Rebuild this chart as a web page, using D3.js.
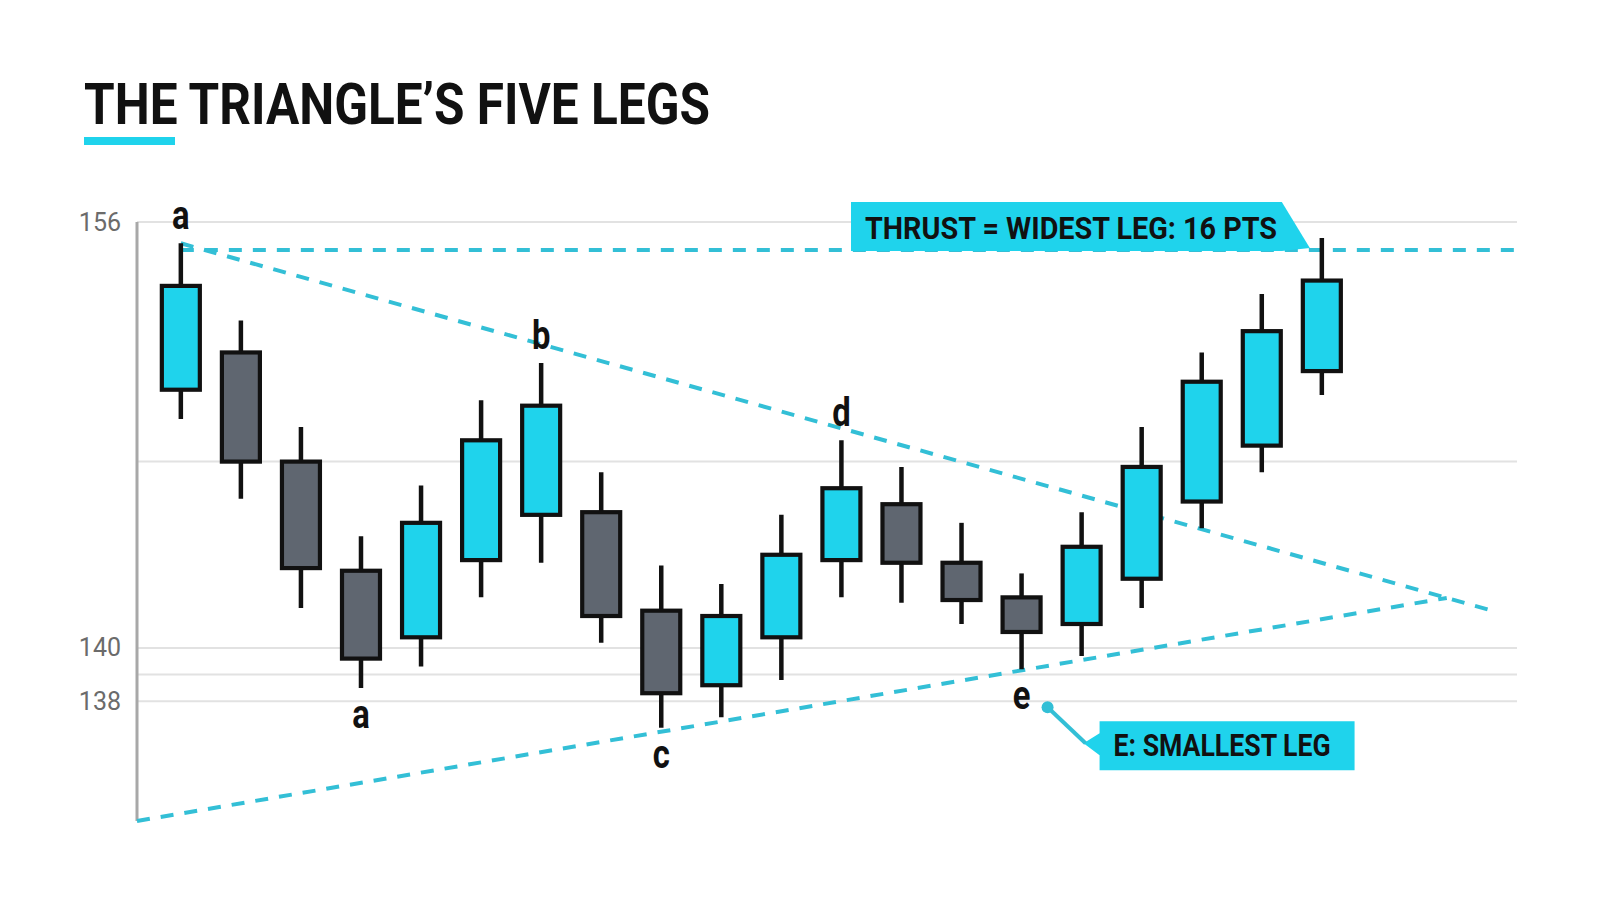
<!DOCTYPE html>
<html>
<head>
<meta charset="utf-8">
<script src="https://cdn.jsdelivr.net/npm/d3@7"></script>
<style>
  body { margin: 0; background: #fff; }
  svg { display: block; }
</style>
</head>
<body>
<div id="chart"></div>
<script>
// candle data (index = bar number)
const opens  = [149.7, 151.1, 147.0, 142.9, 140.4, 143.3, 145.0, 145.1, 141.4, 138.6, 140.4, 143.3, 145.4, 143.2, 141.9, 140.9, 142.6, 145.5, 147.6, 150.4]
const highs  = [155.2, 152.3, 148.3, 144.2, 146.1, 149.3, 150.7, 146.6, 143.1, 142.4, 145.0, 147.8, 146.8, 144.7, 142.8, 145.1, 148.3, 151.1, 153.3, 155.4]
const lows   = [148.6, 145.6, 141.5, 138.5, 139.3, 141.9, 143.2, 140.2, 137.0, 137.4, 138.8, 141.9, 141.7, 140.9, 139.2, 139.7, 141.5, 144.5, 146.6, 149.5]
const closes = [153.6, 147.0, 143.0, 139.6, 144.7, 147.8, 149.1, 141.2, 138.3, 141.2, 143.5, 146.0, 143.2, 141.8, 140.6, 143.8, 146.8, 150.0, 151.9, 153.8]

// pivots of the triangle
const pivotLabels = ["a", "a", "b", "c", "d", "e"]
const pivotIndex  = [0, 3, 6, 8, 11, 14]
const pivotSide   = ["high", "low", "high", "low", "high", "low"]

// trendlines [barIndex, price]
const upperLine = [[0, 155.2], [21.92, 141.35]]
const lowerLine = [[-0.73, 133.5], [21.08, 141.88]]
const thrustLine = [[0, 154.95], [22.25, 154.95]]

// y axis
const gridValues = [156, 147, 140, 139, 138]
const tickLabels = [156, 140, 138]

const titleText = "THE TRIANGLE\u2019S FIVE LEGS"
const thrustText = "THRUST = WIDEST LEG: 16 PTS"
const eText = "E: SMALLEST LEG"

const W = 1600, H = 914
const margin = ({top: 222, right: 83, bottom: 93, left: 137})
const cyan = "#1fd3ec", gray = "#5f6670", lineCyan = "#33bfd6"

const svg = d3.select("#chart").append("svg")
    .attr("width", W)
    .attr("height", H)

const xScale = d3.scaleLinear()
    .domain([-0.73, 22.25])
    .range([margin.left, W - margin.right])
const yScale = d3.scaleLinear()
    .domain([133.5, 156])
    .range([H - margin.bottom, margin.top])

// title
svg.append("text")
    .attr("x", 84).attr("y", 124)
    .attr("font-family", "Roboto, sans-serif")
    .attr("font-weight", 700)
    .attr("font-size", 57)
    .attr("textLength", 626)
    .attr("lengthAdjust", "spacingAndGlyphs")
    .attr("fill", "#111")
    .text(titleText)
svg.append("rect")
    .attr("x", 84).attr("y", 137)
    .attr("width", 91).attr("height", 8)
    .attr("fill", cyan)

// grid
svg.append("g").selectAll("line")
    .data(gridValues)
    .join("line")
    .attr("x1", xScale.range()[0]).attr("x2", xScale.range()[1])
    .attr("y1", d => yScale(d)).attr("y2", d => yScale(d))
    .attr("stroke", "#e2e2e2")
    .attr("stroke-width", 2)

// y axis, only the labelled ticks
const yAxis = d3.axisLeft(yScale)
    .tickValues(tickLabels)
    .tickSize(0)
    .tickPadding(16)
    .tickFormat(d3.format("d"))
const yg = svg.append("g")
    .attr("transform", "translate(" + margin.left + ",0)")
    .call(yAxis)
yg.select(".domain").remove()
yg.selectAll("text")
    .attr("font-family", "Roboto, sans-serif")
    .attr("font-size", 25)
    .attr("fill", "#6b6b6b")
svg.append("line")
    .attr("x1", margin.left).attr("x2", margin.left)
    .attr("y1", yScale(156)).attr("y2", yScale.range()[0])
    .attr("stroke", "#a8a8a8")
    .attr("stroke-width", 3)

// trendlines
const line = d3.line().x(d => xScale(d[0])).y(d => yScale(d[1]))
svg.append("g").selectAll("path")
    .data([thrustLine, upperLine, lowerLine])
    .join("path")
    .attr("d", line)
    .attr("fill", "none")
    .attr("stroke", lineCyan)
    .attr("stroke-width", 4)
    .attr("stroke-dasharray", "13 11")

// candles
const candles = d3.range(opens.length).map(i => ({
    i, o: opens[i], h: highs[i], l: lows[i], c: closes[i]
}))
const bodyW = 38
const cg = svg.append("g").selectAll("g")
    .data(candles)
    .join("g")
cg.append("line")
    .attr("x1", d => xScale(d.i)).attr("x2", d => xScale(d.i))
    .attr("y1", d => yScale(d.h)).attr("y2", d => yScale(d.l))
    .attr("stroke", "#111")
    .attr("stroke-width", 4.5)
cg.append("rect")
    .attr("x", d => xScale(d.i) - bodyW / 2)
    .attr("width", bodyW)
    .attr("y", d => yScale(Math.max(d.o, d.c)))
    .attr("height", d => Math.abs(yScale(d.o) - yScale(d.c)))
    .attr("fill", d => d.c > d.o ? cyan : gray)
    .attr("stroke", "#111")
    .attr("stroke-width", 4.2)

// pivot letters (condensed look via horizontal squeeze)
const pivots = pivotLabels.map((t, k) => ({t, i: pivotIndex[k], side: pivotSide[k]}))
svg.append("g").selectAll("text")
    .data(pivots)
    .join("text")
    .attr("transform", d => {
        const y = d.side == "high" ? yScale(highs[d.i]) - 14 : yScale(lows[d.i]) + 40
        return "translate(" + xScale(d.i) + "," + y + ") scale(0.82,1)"
    })
    .attr("text-anchor", "middle")
    .attr("font-family", "Roboto, sans-serif")
    .attr("font-weight", 700)
    .attr("font-size", 40)
    .attr("fill", "#111")
    .text(d => d.t)

// thrust callout, tail pointing at last bar's high
const last = opens.length - 1
const tipX = xScale(last) - 12, tipY = yScale(thrustLine[0][1]) - 2
const bx0 = 851, bx1 = tipX - 28, by0 = tipY - 46, by1 = tipY + 3
svg.append("path")
    .attr("d", `M${bx0},${by0}H${bx1}L${tipX},${tipY}L${bx1},${by1}H${bx0}Z`)
    .attr("fill", cyan)
svg.append("text")
    .attr("x", bx0 + 14).attr("y", by1 - 12)
    .attr("font-family", "Roboto, sans-serif")
    .attr("font-weight", 700)
    .attr("font-size", 31)
    .attr("textLength", 412)
    .attr("lengthAdjust", "spacingAndGlyphs")
    .attr("fill", "#111")
    .text(thrustText)

// e callout
const ei = pivotIndex[5]
const dotX = xScale(ei) + 26, dotY = yScale(lows[ei]) + 38
const ex0 = dotX + 52, ey0 = dotY + 14, ex1 = ex0 + 255, ey1 = ey0 + 49
svg.append("path")
    .attr("d", `M${ex0},${ey0}H${ex1}V${ey1}H${ex0}V${ey0 + 34}L${ex0 - 16},${ey0 + 22}L${ex0},${ey0 + 12}Z`)
    .attr("fill", cyan)
svg.append("line")
    .attr("x1", dotX).attr("y1", dotY)
    .attr("x2", ex0 - 14).attr("y2", ey0 + 22)
    .attr("stroke", lineCyan)
    .attr("stroke-width", 4)
svg.append("circle")
    .attr("cx", dotX).attr("cy", dotY)
    .attr("r", 6)
    .attr("fill", lineCyan)
svg.append("text")
    .attr("x", ex0 + 14).attr("y", ey1 - 14)
    .attr("font-family", "Roboto, sans-serif")
    .attr("font-weight", 700)
    .attr("font-size", 31)
    .attr("textLength", 217)
    .attr("lengthAdjust", "spacingAndGlyphs")
    .attr("fill", "#111")
    .text(eText)
</script>
</body>
</html>
